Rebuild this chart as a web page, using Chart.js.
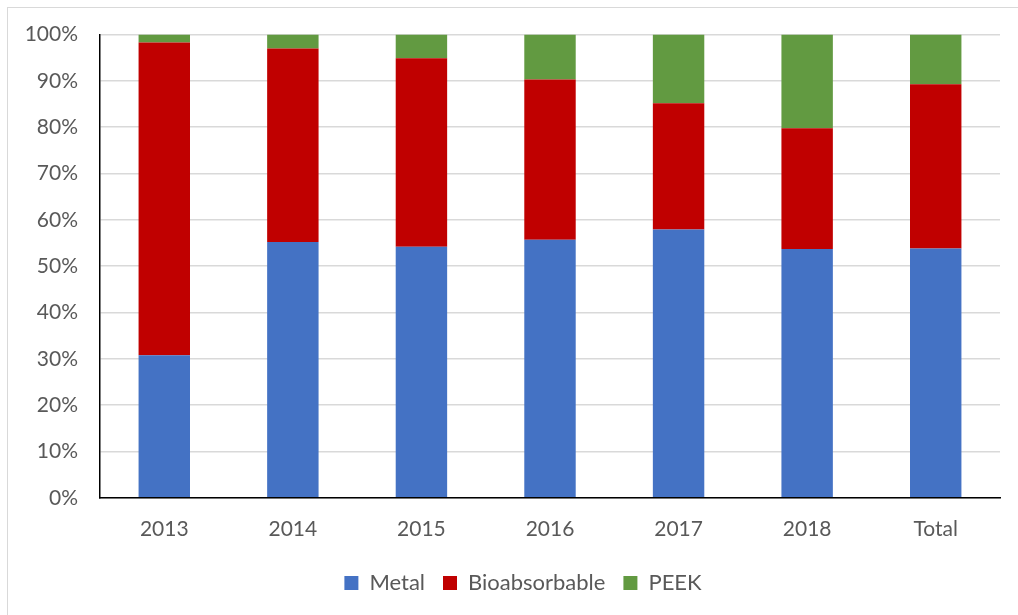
<!DOCTYPE html>
<html>
<head>
<meta charset="utf-8">
<script src="https://cdn.jsdelivr.net/npm/chart.js@4/dist/chart.umd.min.js"></script>
<style>
  html, body { margin: 0; padding: 0; background: #fff; overflow: hidden; }
  #frame {
    position: absolute; left: 7px; top: 7px;
    width: 1100px; height: 700px;
    border: 1px solid #d9d9d9;
  }
  #wrap { position: absolute; left: 0; top: 0; width: 1018px; height: 615px; }
</style>
</head>
<body>
<div id="frame"></div>
<div id="wrap"><canvas id="shareChart"></canvas></div>
<script>
const categories = ["2013", "2014", "2015", "2016", "2017", "2018", "Total"];
const metal = [30.8, 55.2, 54.2, 55.7, 57.9, 53.7, 53.8];
const bioabsorbable = [67.5, 41.8, 40.7, 34.6, 27.3, 26.1, 35.5];
const peek = [1.7, 3.0, 5.1, 9.7, 14.8, 20.2, 10.7];
const yTicks = [0, 10, 20, 30, 40, 50, 60, 70, 80, 90, 100];

const fontFamily = "Lato, 'Open Sans', sans-serif";
const textColor = "#595959";

// legend in the original is centred a bit to the right of the canvas middle
const legendShift = {
    id: "legendShift",
    afterLayout(chart) {
        if (chart.legend) {
            chart.legend.left += 23;
            chart.legend.right += 23;
        }
    }
};

const ctx = document.getElementById("shareChart");

new Chart(ctx, {

    type: "bar",

    data: {

        labels: categories,

        datasets: [
            { label: "Metal", data: metal, backgroundColor: "#4472C4" },
            { label: "Bioabsorbable", data: bioabsorbable, backgroundColor: "#C00000" },
            { label: "PEEK", data: peek, backgroundColor: "#629A41" }
        ]

    },

    options: {

        responsive: true,
        maintainAspectRatio: false,
        animation: false,

        layout: {
            padding: { top: 29, right: 18, bottom: 11, left: 0 }
        },

        datasets: {
            bar: { barPercentage: 0.4, categoryPercentage: 1.0 }
        },

        scales: {

            x: {
                stacked: true,
                afterFit: scale => { scale.height -= 7; },
                grid: { display: false, drawTicks: false },
                border: { color: "#000", width: 1.5 },
                ticks: {
                    color: textColor,
                    font: { family: fontFamily, size: 21 },
                    padding: 19
                }
            },

            y: {
                stacked: true,
                min: 0,
                max: 100,
                afterFit: scale => { scale.width = 100; },
                afterBuildTicks: scale => {
                    scale.ticks = yTicks.map(v => ({ value: v }));
                },
                grid: { color: "#d9d9d9", lineWidth: 1.5, drawTicks: false },
                border: { color: "#000", width: 1.5 },
                ticks: {
                    color: textColor,
                    font: { family: fontFamily, size: 21 },
                    padding: 22,
                    callback: v => v + "%"
                }
            }

        },

        plugins: {

            legend: {
                position: "bottom",
                labels: {
                    color: textColor,
                    font: { family: fontFamily, size: 22 },
                    boxWidth: 14,
                    boxHeight: 14,
                    padding: 18
                }
            },

            tooltip: { enabled: false }

        }

    },

    plugins: [legendShift]

});
</script>
</body>
</html>
